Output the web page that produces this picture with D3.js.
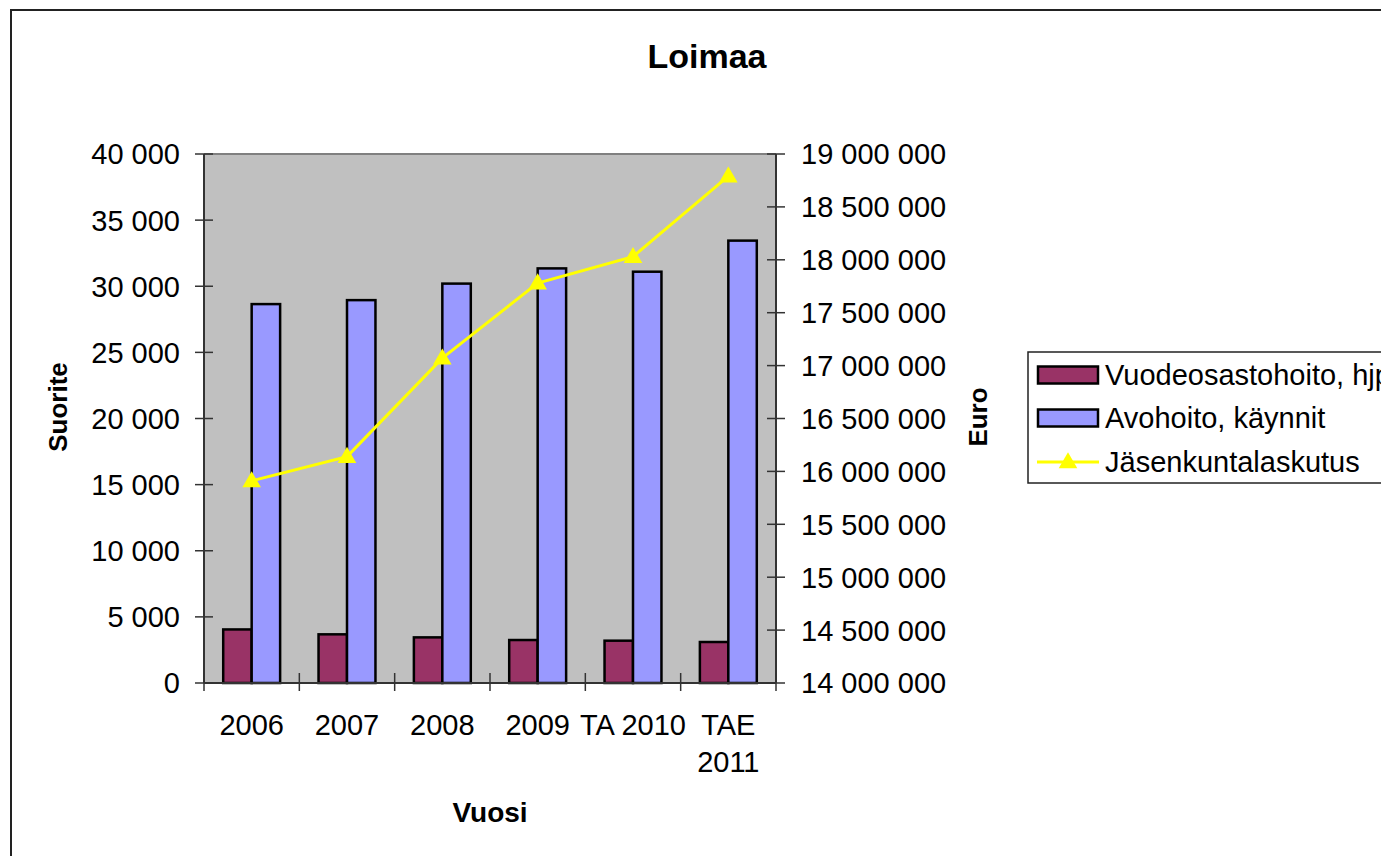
<!DOCTYPE html>
<html>
<head>
<meta charset="utf-8">
<script src="https://cdn.jsdelivr.net/npm/d3@7"></script>
<style>
  body { margin: 0; background: #fff; }
  svg text { font-family: Arial, "Liberation Sans", sans-serif; fill: #000; }
</style>
</head>
<body>
<div id="chart"></div>
<script>
// data
const categories = ["2006", "2007", "2008", "2009", "TA 2010", "TAE 2011"];
const tickLines = [["2006"], ["2007"], ["2008"], ["2009"], ["TA 2010"], ["TAE", "2011"]];
const vuodeosasto = [4050, 3680, 3450, 3250, 3200, 3100];
const avohoito = [28650, 28950, 30200, 31350, 31100, 33450];
const jasenkunta = [15910000, 16140000, 17070000, 17780000, 18030000, 18790000];
const leftTicks = [0, 5000, 10000, 15000, 20000, 25000, 30000, 35000, 40000];
const rightTicks = [14000000, 14500000, 15000000, 15500000, 16000000, 16500000, 17000000, 17500000, 18000000, 18500000, 19000000];
const seriesNames = ["Vuodeosastohoito, hjp", "Avohoito, käynnit", "Jäsenkuntalaskutus"];
const barColors = ["#993366", "#9999FF"];

const width = 1381, height = 856;
const plot = { left: 204, right: 776, top: 154, bottom: 683 };

const svg = d3.select("#chart")
  .append("svg")
  .attr("width", width)
  .attr("height", height);

// outer chart frame (runs off the right / bottom edge)
svg.append("rect")
  .attr("x", 11).attr("y", 10)
  .attr("width", 1420).attr("height", 900)
  .attr("fill", "#fff")
  .attr("stroke", "#222")
  .attr("stroke-width", 2);

// scales
const x0 = d3.scaleBand().domain(categories).range([plot.left, plot.right]).padding(0);
const barW = x0.step() / (2 + 1.35);
const x1 = d3.scaleBand().domain([0, 1]).range([0, 2 * barW]);
const yL = d3.scaleLinear().domain([0, 40000]).range([plot.bottom, plot.top]);
const yR = d3.scaleLinear().domain([14000000, 19000000]).range([plot.bottom, plot.top]);

const fmt = (v) => d3.format(",")(v).replace(/,/g, " ");

// plot area
svg.append("rect")
  .attr("x", plot.left).attr("y", plot.top)
  .attr("width", plot.right - plot.left)
  .attr("height", plot.bottom - plot.top)
  .attr("fill", "#C0C0C0");
svg.append("line")
  .attr("x1", plot.left).attr("x2", plot.right)
  .attr("y1", plot.top).attr("y2", plot.top)
  .attr("stroke", "#808080").attr("stroke-width", 2);

// bars
const groups = svg.selectAll("g.cat")
  .data(categories)
  .enter()
  .append("g")
  .attr("class", "cat")
  .attr("transform", (d) => `translate(${x0(d) + (x0.step() - 2 * barW) / 2},0)`);

groups.selectAll("rect")
  .data((d, i) => [vuodeosasto[i], avohoito[i]])
  .enter()
  .append("rect")
  .attr("x", (d, j) => x1(j))
  .attr("y", (d) => yL(d))
  .attr("width", barW)
  .attr("height", (d) => yL(0) - yL(d))
  .attr("fill", (d, j) => barColors[j])
  .attr("stroke", "#000")
  .attr("stroke-width", 2.5);

// axes
const axisColor = "#333";
svg.append("line")
  .attr("x1", plot.left).attr("x2", plot.left)
  .attr("y1", plot.top).attr("y2", plot.bottom)
  .attr("stroke", axisColor).attr("stroke-width", 2);
svg.append("line")
  .attr("x1", plot.right).attr("x2", plot.right)
  .attr("y1", plot.top).attr("y2", plot.bottom)
  .attr("stroke", axisColor).attr("stroke-width", 2);
svg.append("line")
  .attr("x1", plot.left).attr("x2", plot.right)
  .attr("y1", plot.bottom).attr("y2", plot.bottom)
  .attr("stroke", axisColor).attr("stroke-width", 2);

// left ticks + labels
svg.selectAll("line.lt").data(leftTicks).enter().append("line")
  .attr("x1", plot.left - 9).attr("x2", plot.left + 9)
  .attr("y1", (d) => yL(d)).attr("y2", (d) => yL(d))
  .attr("stroke", axisColor).attr("stroke-width", 1.5);
svg.selectAll("text.lt").data(leftTicks).enter().append("text")
  .attr("x", plot.left - 24)
  .attr("y", (d) => yL(d))
  .attr("dy", "0.36em")
  .attr("text-anchor", "end")
  .style("font-size", "29px")
  .text(fmt);

// right ticks + labels
svg.selectAll("line.rt").data(rightTicks).enter().append("line")
  .attr("x1", plot.right - 9).attr("x2", plot.right + 9)
  .attr("y1", (d) => yR(d)).attr("y2", (d) => yR(d))
  .attr("stroke", axisColor).attr("stroke-width", 1.5);
svg.selectAll("text.rt").data(rightTicks).enter().append("text")
  .attr("x", plot.right + 25)
  .attr("y", (d) => yR(d))
  .attr("dy", "0.36em")
  .style("font-size", "29px")
  .text(fmt);

// bottom ticks at category boundaries
const bounds = categories.map((c) => x0(c)).concat([plot.right]);
svg.selectAll("line.bt").data(bounds).enter().append("line")
  .attr("x1", (d) => d).attr("x2", (d) => d)
  .attr("y1", plot.bottom - 10).attr("y2", plot.bottom + 8)
  .attr("stroke", axisColor).attr("stroke-width", 1.5);

const catLabels = svg.selectAll("text.ct").data(categories).enter().append("text")
  .attr("x", (d) => x0(d) + x0.step() / 2)
  .attr("y", 735)
  .attr("text-anchor", "middle")
  .style("font-size", "29px");
catLabels.selectAll("tspan")
  .data((d, i) => tickLines[i])
  .enter()
  .append("tspan")
  .attr("x", function () { return d3.select(this.parentNode).attr("x"); })
  .attr("dy", (d, k) => (k === 0 ? 0 : 36.5))
  .text((d) => d);

// line series
const line = d3.line()
  .x((d, i) => x0(categories[i]) + x0.step() / 2)
  .y((d) => yR(d));
svg.append("path")
  .datum(jasenkunta)
  .attr("d", line)
  .attr("fill", "none")
  .attr("stroke", "#FFFF00")
  .attr("stroke-width", 3);

const tri = d3.symbol().type(d3.symbolTriangle).size(150);
svg.selectAll("path.mk").data(jasenkunta).enter().append("path")
  .attr("d", tri)
  .attr("transform", (d, i) => `translate(${x0(categories[i]) + x0.step() / 2},${yR(d) + 1})`)
  .attr("fill", "#FFFF00");

// titles
svg.append("text")
  .attr("x", 707).attr("y", 68)
  .attr("text-anchor", "middle")
  .style("font-size", "34px").style("font-weight", "bold")
  .text("Loimaa");
svg.append("text")
  .attr("x", 490).attr("y", 822)
  .attr("text-anchor", "middle")
  .style("font-size", "28px").style("font-weight", "bold")
  .text("Vuosi");
svg.append("text")
  .attr("transform", "translate(67,407) rotate(-90)")
  .attr("text-anchor", "middle")
  .style("font-size", "26px").style("font-weight", "bold")
  .text("Suorite");
svg.append("text")
  .attr("transform", "translate(987,417) rotate(-90)")
  .attr("text-anchor", "middle")
  .style("font-size", "26px").style("font-weight", "bold")
  .text("Euro");

// legend
const legend = svg.append("g");
legend.append("rect")
  .attr("x", 1028).attr("y", 352)
  .attr("width", 420).attr("height", 131)
  .attr("fill", "#fff")
  .attr("stroke", "#222").attr("stroke-width", 1.5);

const rowY = [375, 418, 462];
barColors.forEach((c, i) => {
  legend.append("rect")
    .attr("x", 1038).attr("y", rowY[i] - 8.5)
    .attr("width", 60).attr("height", 17)
    .attr("fill", c)
    .attr("stroke", "#000").attr("stroke-width", 2.5);
});
legend.append("line")
  .attr("x1", 1037).attr("x2", 1099)
  .attr("y1", rowY[2]).attr("y2", rowY[2])
  .attr("stroke", "#FFFF00").attr("stroke-width", 3);
legend.append("path")
  .attr("d", tri)
  .attr("transform", `translate(1068,${rowY[2] + 1})`)
  .attr("fill", "#FFFF00");

legend.selectAll("text").data(seriesNames).enter().append("text")
  .attr("x", 1105)
  .attr("y", (d, i) => rowY[i])
  .attr("dy", "0.36em")
  .style("font-size", "29px")
  .text((d) => d);
</script>
</body>
</html>
